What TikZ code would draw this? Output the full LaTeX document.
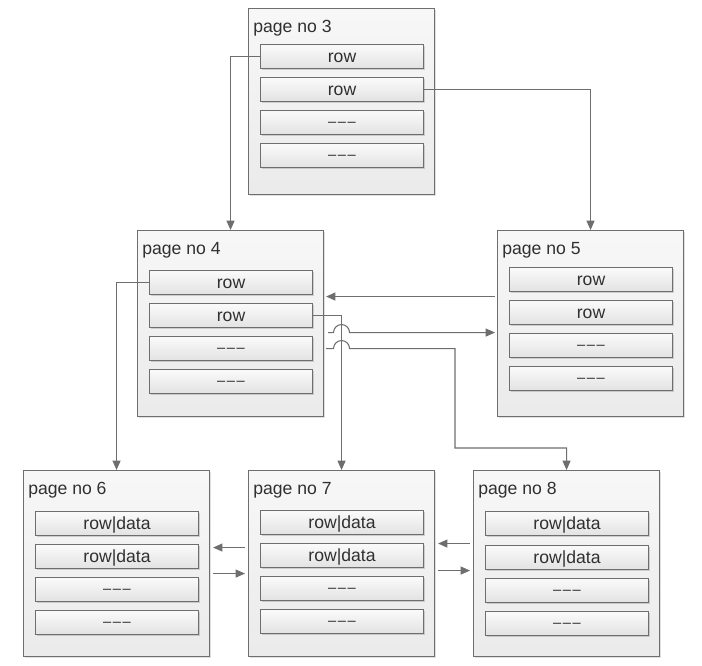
\documentclass[tikz,border=0pt]{standalone}
\usepackage{fontspec}
\setmainfont{Liberation Sans}
\usetikzlibrary{arrows.meta,calc,shadows}
\definecolor{ln}{HTML}{6E6E6E}
\definecolor{tx}{HTML}{303030}
\newcommand\emptyrow{\raisebox{1.8pt}{\fontsize{11}{12}\selectfont –\kern1.2pt–\kern1.2pt–}}
\tikzset{
  pagebox/.style={draw=ln, line width=0.8pt, top color=white!97!black, bottom color=white!92!black,
    minimum width=139.5pt, minimum height=139.5pt, anchor=north west, inner sep=0pt,
    drop shadow={shadow xshift=1.2pt, shadow yshift=-1.2pt, fill=black, opacity=0.12}},
  rowbox/.style={draw=ln, line width=0.8pt, top color=white!98!black, bottom color=white!89!black,
    minimum width=122.25pt, minimum height=18pt, anchor=north west, inner sep=0pt,
    text=tx, font=\fontsize{13.2}{15}\selectfont, text height=9pt, text depth=0pt,
    drop shadow={shadow xshift=1pt, shadow yshift=-1pt, fill=black, opacity=0.15}},
  ptitle/.style={anchor=base west, inner sep=0pt, text=tx, font=\fontsize{13.2}{15}\selectfont},
  conn/.style={draw=ln, line width=0.8pt},
  arr/.style={conn, -{Triangle[length=7pt,width=6pt]}},
}
\begin{document}
\begin{tikzpicture}[x=0.75pt,y=-0.75pt]
\useasboundingbox (0,0) rectangle (702,665);

% pages
\node[pagebox] (p3) at (248,8) {};
\node[pagebox] (p4) at (137,230) {};
\node[pagebox] (p5) at (497,230) {};
\node[pagebox] (p6) at (23,470) {};
\node[pagebox] (p7) at (248,470) {};
\node[pagebox] (p8) at (473,470) {};

% titles
\node[ptitle] (t3) at ($(p3.north west)+(5,24)$) {page no 3};
\node[ptitle] (t4) at ($(p4.north west)+(5,24)$) {page no 4};
\node[ptitle] (t5) at ($(p5.north west)+(5,24)$) {page no 5};
\node[ptitle] (t6) at ($(p6.north west)+(5,24)$) {page no 6};
\node[ptitle] (t7) at ($(p7.north west)+(5,24)$) {page no 7};
\node[ptitle] (t8) at ($(p8.north west)+(5,24)$) {page no 8};

% rows page 3
\node[rowbox] (p3r1) at ($(p3.north west)+(12,36)$) {row};
\node[rowbox] (p3r2) at ($(p3.north west)+(12,69)$) {row};
\node[rowbox] (p3r3) at ($(p3.north west)+(12,102)$) {\emptyrow};
\node[rowbox] (p3r4) at ($(p3.north west)+(12,135)$) {\emptyrow};
% rows page 4
\node[rowbox] (p4r1) at ($(p4.north west)+(12,40)$) {row};
\node[rowbox] (p4r2) at ($(p4.north west)+(12,73)$) {row};
\node[rowbox] (p4r3) at ($(p4.north west)+(12,106)$) {\emptyrow};
\node[rowbox] (p4r4) at ($(p4.north west)+(12,139)$) {\emptyrow};
% rows page 5
\node[rowbox] (p5r1) at ($(p5.north west)+(12,37)$) {row};
\node[rowbox] (p5r2) at ($(p5.north west)+(12,70)$) {row};
\node[rowbox] (p5r3) at ($(p5.north west)+(12,103)$) {\emptyrow};
\node[rowbox] (p5r4) at ($(p5.north west)+(12,136)$) {\emptyrow};
% rows page 6
\node[rowbox] (p6r1) at ($(p6.north west)+(12,41)$) {row|data};
\node[rowbox] (p6r2) at ($(p6.north west)+(12,74)$) {row|data};
\node[rowbox] (p6r3) at ($(p6.north west)+(12,107)$) {\emptyrow};
\node[rowbox] (p6r4) at ($(p6.north west)+(12,140)$) {\emptyrow};
% rows page 7
\node[rowbox] (p7r1) at ($(p7.north west)+(12,40)$) {row|data};
\node[rowbox] (p7r2) at ($(p7.north west)+(12,73)$) {row|data};
\node[rowbox] (p7r3) at ($(p7.north west)+(12,106)$) {\emptyrow};
\node[rowbox] (p7r4) at ($(p7.north west)+(12,139)$) {\emptyrow};
% rows page 8
\node[rowbox] (p8r1) at ($(p8.north west)+(12,41)$) {row|data};
\node[rowbox] (p8r2) at ($(p8.north west)+(12,75)$) {row|data};
\node[rowbox] (p8r3) at ($(p8.north west)+(12,108)$) {\emptyrow};
\node[rowbox] (p8r4) at ($(p8.north west)+(12,141)$) {\emptyrow};

% connectors
\coordinate (bend) at (455,448);
\draw[arr] (p3r1.west) -| (p4.north);
\draw[arr] (p3r2.east) -| (p5.north);
\draw[arr] ($(p5.west)+(-2,-27)$) -- ($(p4.east)+(2,-27)$);
\draw[arr] (p4r2.east) -| (p7.north);
\draw[arr] ($(p4.east)+(4,9)$) -- ($(p7.north |- p4.east)+(-8,9)$)
   arc[start angle=180, end angle=0, radius=6pt] -- ($(p5.west)+(-2,9)$);
\draw[arr] ($(p4.east)+(2,25)$) -- ($(p7.north |- p4.east)+(-8,25)$)
   arc[start angle=180, end angle=0, radius=6pt] -- ($(bend |- p4.east)+(0,25)$)
   -- (bend) -| (p8.north);
\draw[arr] (p4r1.west) -| (p6.north);
\draw[arr] ($(p7.west)+(-3,-16)$) -- ($(p6.east)+(3,-16)$);
\draw[arr] ($(p6.east)+(3,10)$) -- ($(p7.west)+(-3,10)$);
\draw[arr] ($(p8.west)+(-3,-20)$) -- ($(p7.east)+(3,-20)$);
\draw[arr] ($(p7.east)+(3,7)$) -- ($(p8.west)+(-3,7)$);
\end{tikzpicture}
\end{document}
